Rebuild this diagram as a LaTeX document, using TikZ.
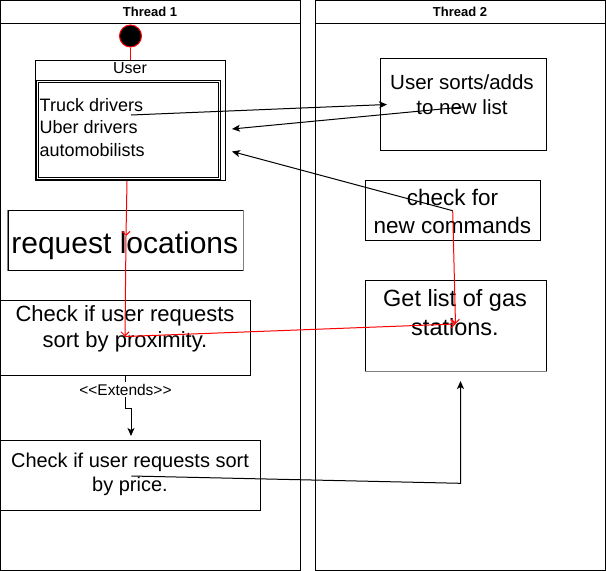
\documentclass[tikz,border=0pt]{standalone}
\usepackage{fontspec}
\setmainfont{Liberation Sans}
\usetikzlibrary{arrows.meta}
\tikzset{
  lane/.style={draw, line width=1pt, inner sep=0pt},
  box/.style={draw, line width=1pt, inner sep=0pt},
  txt/.style={inner sep=0pt, align=center},
  blk/.style={draw, line width=1pt, -{Stealth[length=8pt,width=7pt,inset=2pt]}},
  redarr/.style={draw=red, line width=1pt, -{Straight Barb[length=4pt,width=8pt]}},
}
\begin{document}
\begin{tikzpicture}[x=1pt,y=-1pt]
\useasboundingbox (0,0) rectangle (606,571);

% lanes
\node[lane, minimum width=299.5pt, minimum height=570pt] (lane1) at (150.25,285.5) {};
\node[lane, minimum width=290pt, minimum height=570pt] (lane2) at (460.5,285.5) {};
\draw[line width=1pt] (0.5,23) -- (300,23);
\draw[line width=1pt] (315.5,23) -- (605.5,23);
\node[txt, anchor=base, font=\bfseries\fontsize{13}{15}\selectfont] (t1) at (150,16) {Thread 1};
\node[txt, anchor=base, font=\bfseries\fontsize{13}{15}\selectfont] (t2) at (460,16) {Thread 2};

% start
\node[circle, draw=red, fill=black, minimum size=22pt, inner sep=0pt, line width=1pt] (start) at (130.5,36) {};

% user
\node[box, minimum width=190pt, minimum height=120pt] (user) at (130.5,120.5) {};
\node[txt, anchor=base, font=\fontsize{16}{19}\selectfont] (usertitle) at (130,73) {User};
\node[box, minimum width=184pt, minimum height=99pt] (ulist1) at (128.5,130) {};
\node[box, minimum width=180pt, minimum height=95pt] (ulist2) at (128.5,130) {};
\node[inner sep=0pt, anchor=west, align=left, font=\fontsize{18}{22.5}\selectfont] (listtxt) at (39.5,127.5) {Truck drivers\\Uber drivers\\automobilists};

% thread 1 boxes
\node[box, minimum width=235pt, minimum height=60pt] (reqloc) at (125.5,240) {};
\draw[gray, line width=1.5pt] (reqloc.north west) -- (reqloc.south west);
\draw[gray, line width=1.5pt] (reqloc.north east) -- (reqloc.south east);
\node[txt, anchor=base, font=\fontsize{30}{36}\selectfont] (reqtxt) at (124.8,253.3) {request locations};

\node[box, minimum width=249.5pt, minimum height=75pt] (prox) at (125.25,337.5) {};
\node[txt, font=\fontsize{22}{26}\selectfont] (proxtxt) at (125,329.3) {Check if user requests\\sort by proximity.};

\node[box, minimum width=260pt, minimum height=69.5pt] (price) at (130.5,475.25) {};
\node[txt, font=\fontsize{20}{24}\selectfont] (pricetxt) at (130,474.8) {Check if user requests sort\\by price.};

% thread 2 boxes
\node[box, minimum width=166pt, minimum height=92pt] (sorts) at (463,104) {};
\node[txt, font=\fontsize{20.5}{25}\selectfont] (sortstxt) at (462,94.2) {User sorts/adds\\to new list};

\node[box, minimum width=175pt, minimum height=60pt] (cmds) at (452.5,210) {};
\node[txt, font=\fontsize{22.5}{28}\selectfont] (cmdstxt) at (452.5,211.6) {check for\\new commands};

\node[box, minimum width=181pt, minimum height=91pt] (gas) at (455.5,325.5) {};
\draw[gray, line width=1.5pt] (gas.south west) -- (gas.south east);
\node[txt, font=\fontsize{23.5}{29}\selectfont] (gastxt) at (455,312.8) {Get list of gas\\stations.};

% connector points
\coordinate (truckpt) at (131,115);
\coordinate (sortsin) at (387,104.5);
\coordinate (sortsout) at (463,107);
\coordinate (listin1) at (232,129);
\coordinate (cmdsout) at (452.7,210.7);
\coordinate (listin2) at (232,151.5);
\coordinate (gasin) at (455.5,324);
\coordinate (userbot) at (127,181);
\coordinate (reqc) at (126,236);
\coordinate (proxc) at (125,336.5);
\coordinate (proxbot) at (125.5,375);
\coordinate (extjog1) at (125.5,408);
\coordinate (extjog2) at (131,408);
\coordinate (pricetop) at (131,436);
\coordinate (pricept) at (131.4,476);
\coordinate (pricecorner) at (460.5,483.3);
\coordinate (gasbelow) at (460.5,381);

% connectors
\draw[red, line width=1pt] (start.south) -- (start.south |- user.north);
\draw[blk] (truckpt) -- (sortsin);
\draw[blk] (sortsout) -- (listin1);
\draw[blk] (cmdsout) -- (listin2);
\draw[redarr] (cmdsout) -- (gasin);
\draw[redarr] (userbot) -- (reqc);
\draw[redarr] (reqc) -- (proxc);
\draw[redarr] (proxc) -- (gasin);
\draw[blk] (proxbot) -- (extjog1) -- (extjog2) -- (pricetop);
\node[fill=white, inner sep=1.5pt, anchor=base, font=\fontsize{15.5}{18}\selectfont] (ext) at (125.5,395) {<\kern0pt<Extends>\kern0pt>};
\draw[blk] (pricept) -- (pricecorner) -- (gasbelow);
\end{tikzpicture}
\end{document}
